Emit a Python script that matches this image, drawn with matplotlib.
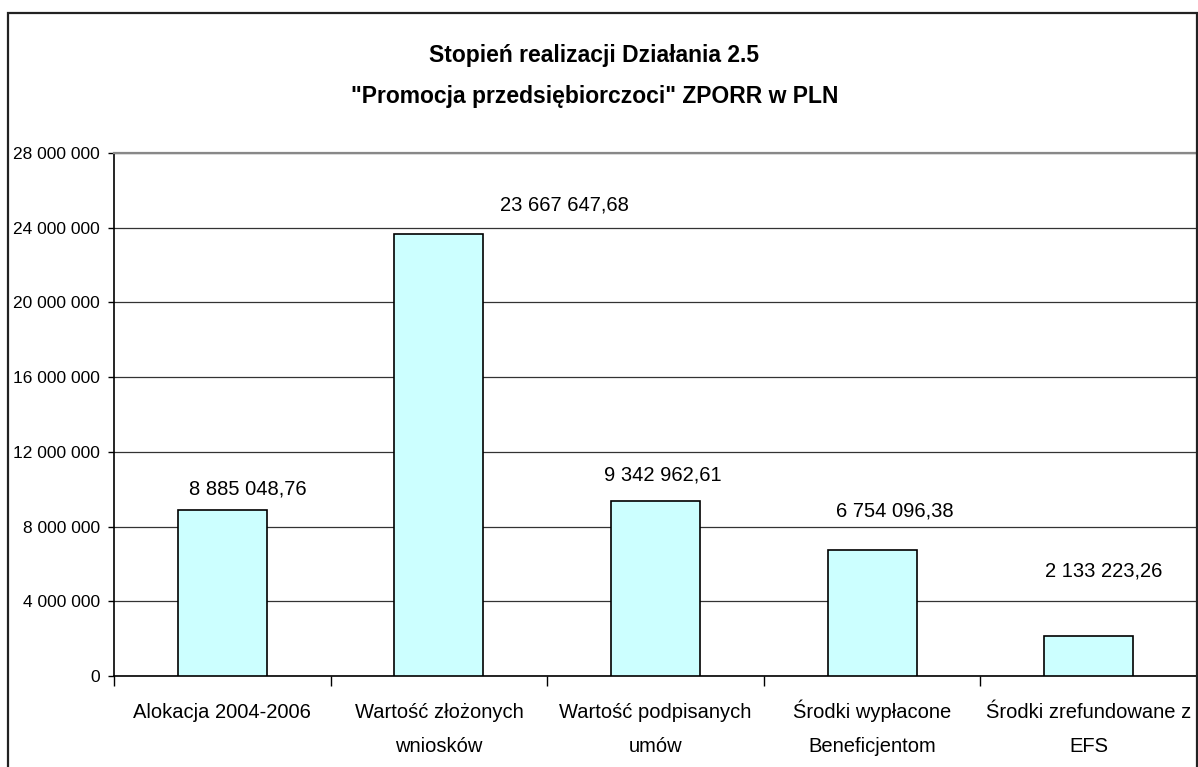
import numpy as np
import matplotlib.pyplot as plt
from matplotlib.patches import Rectangle
from matplotlib.ticker import FuncFormatter, MultipleLocator

plt.rcParams['font.family'] = ['Liberation Sans', 'DejaVu Sans']

categories = ['Alokacja 2004-2006', 'Wartość złożonych\nwniosków',
              'Wartość podpisanych\numów', 'Środki wypłacone\nBeneficjentom',
              'Środki zrefundowane z\nEFS']
values = [8885048.76, 23667647.68, 9342962.61, 6754096.38, 2133223.26]
title = 'Stopień realizacji Działania 2.5\n"Promocja przedsiębiorczoci" ZPORR w PLN'

# label offsets (pixels) as placed in the original chart
label_dx = [26, 126, 7, 23, 15]
label_dy = [21, 29, 26, 39, 65]


def pl_num(v, dec=True):
    if dec:
        s = f"{v:,.2f}"
        return s.replace(",", " ").replace(".", ",")
    return f"{int(round(v)):,}".replace(",", " ")


W, H = 1198, 767
fig = plt.figure(figsize=(W / 100, H / 100), dpi=100)

# outer chart border
fig.patches.append(Rectangle((8 / W, -0.1), (1197 - 8) / W, (H - 13) / H + 0.1,
                             transform=fig.transFigure, fill=False,
                             edgecolor='#222222', linewidth=1.6))

ax = fig.add_axes([114 / W, (H - 676) / H, (1197 - 114) / W, (676 - 153) / H])

x = np.arange(len(categories))
ax.bar(x, values, width=0.41, color='#CCFFFF', edgecolor='black', linewidth=1.2, zorder=3)

for i, v in enumerate(values):
    ax.annotate(pl_num(v), (x[i], v), xytext=(label_dx[i], label_dy[i]),
                textcoords='offset pixels', ha='center', va='center', fontsize=14.5)

ax.set_xlim(-0.5, len(categories) - 0.5)
ax.set_ylim(0, 28000000)
ax.yaxis.set_major_locator(MultipleLocator(4000000))
ax.yaxis.set_major_formatter(FuncFormatter(lambda v, p: pl_num(v, dec=False)))
ax.tick_params(axis='y', length=4, width=1, labelsize=12.5, pad=6)

# category labels: each line on its own baseline, like the Excel original
ax.set_xticks(x)
ax.set_xticklabels([])
ax.tick_params(axis='x', which='major', length=0)
for i, cat in enumerate(categories):
    for j, line in enumerate(cat.split('\n')):
        ax.annotate(line, (x[i], 0), xycoords=('data', 'axes fraction'),
                    xytext=(0, -42 - 34 * j), textcoords='offset pixels',
                    ha='center', va='baseline', fontsize=14.5, annotation_clip=False)
ax.set_xticks(np.arange(-0.5, len(categories), 1.0), minor=True)
ax.tick_params(axis='x', which='minor', length=7, width=1)

ax.set_axisbelow(True)
ax.yaxis.grid(True, color='#333333', linewidth=0.9)
ax.spines['right'].set_visible(False)
ax.spines['top'].set_color('#888888')
ax.spines['top'].set_linewidth(1.6)
ax.spines['left'].set_linewidth(1.2)
ax.spines['bottom'].set_linewidth(1.2)

fig.text(0.496, (H - 76) / H, title, ha='center', va='center', fontsize=16.5,
         fontweight='bold', linespacing=2.0)

fig.savefig('out.png', dpi=100)
